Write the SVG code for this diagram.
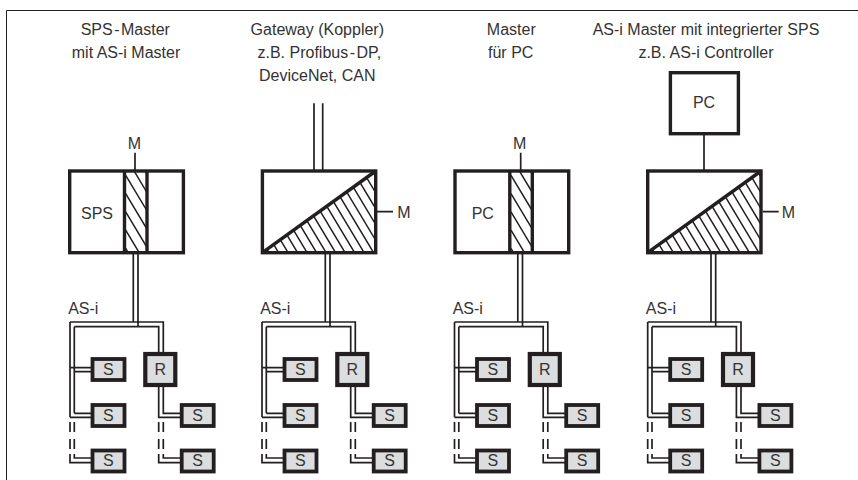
<svg xmlns="http://www.w3.org/2000/svg" width="858" height="480" viewBox="0 0 858 480">
<defs>
<style>
text{font-family:"Liberation Sans",Arial,sans-serif;font-size:16px;fill:#333;text-anchor:middle}
.b{fill:#fff;stroke:#231f20;stroke-width:3.4}
.g{fill:#dcddde;stroke:#231f20;stroke-width:3.8}
.r{fill:#dcddde;stroke:#231f20;stroke-width:4.2}
.l{fill:none;stroke:#231f20;stroke-width:1.7}
.d{fill:none;stroke:#231f20;stroke-width:3.4}
.h{stroke:#231f20;stroke-width:1.5}
</style>
<clipPath id="cb"><rect x="125" y="172" width="21" height="80"/></clipPath>
<clipPath id="cd"><path d="M263 252L375 172V252Z"/></clipPath>
<g id="bus">
<path class="l" d="M133.300 254V322M138 254V326.700M70 322H163.300V354M74.300 326.700H158.700V354M70 322V417.300M74.300 326.700V413.300"/>
<path class="l" d="M70 367.700H92M74.300 371.700H92M74.300 413.300H92M70 417.300H92"/>
<path class="l" d="M70 422V432M74.300 422V432M70 439V449M74.300 439V449"/>
<path class="l" d="M70 454V462.700H92M74.300 454V458H92"/>
<path class="l" d="M158.700 386V417.300H181M163.300 386V413.300H181"/>
<path class="l" d="M158.700 422V432M163.300 422V432M158.700 439V449M163.300 439V449"/>
<path class="l" d="M158.700 454V462.700H181M163.300 454V458H181"/>
</g>
<g id="slaves">
<rect class="g" x="92.500" y="359" width="32" height="21"/>
<rect class="g" x="92.500" y="405" width="32" height="21"/>
<rect class="g" x="92.500" y="450.500" width="32" height="21"/>
<rect class="g" x="181.700" y="405" width="32" height="21"/>
<rect class="g" x="181.700" y="450.500" width="32" height="21"/>
<rect class="r" x="145.300" y="354" width="30" height="31"/>
<text x="108.300" y="375">S</text><text x="108.300" y="420.700">S</text><text x="108.300" y="465.700">S</text>
<text x="197.700" y="420.700">S</text><text x="197.700" y="465.700">S</text><text x="160.300" y="375">R</text>
<text x="83.300" y="314.300">AS-i</text>
</g>
<g id="hb" clip-path="url(#cb)"><path class="h" d="M125.700 157l60 100M125.700 175.300l60 100M125.700 193.600l60 100M125.700 211.900l60 100M125.700 230.200l60 100M125.700 248.500l60 100M125.700 138.700l60 100"/></g>
<g id="hd" clip-path="url(#cd)"><path class="h" d="M209.300 153l60 100M218.800 153l60 100M228.300 153l60 100M237.800 153l60 100M247.300 153l60 100M256.800 153l60 100M266.300 153l60 100M275.800 153l60 100M285.300 153l60 100M294.800 153l60 100M304.300 153l60 100M313.800 153l60 100M323.300 153l60 100M332.800 153l60 100M342.300 153l60 100M351.800 153l60 100M361.300 153l60 100M370.800 153l60 100"/></g>
</defs>
<path fill="none" stroke="#231f20" stroke-width="1" d="M6.500 480V10.500H858"/>
<g id="connectors">
<use href="#bus"/>
<use href="#bus" transform="translate(192 0)"/>
<use href="#bus" transform="translate(384.500 0)"/>
<use href="#bus" transform="translate(577.700 0)"/>
<path class="l" d="M135 152.700V170M314 103.300V170M322.700 103.300V170M377 211.700H393M520.700 152.700V170M704 135V170M762.700 211.700H778.700"/>
</g>
<g id="col1"><use href="#slaves"/></g>
<g id="col2"><use href="#slaves" transform="translate(192 0)"/></g>
<g id="col3"><use href="#slaves" transform="translate(384.500 0)"/></g>
<g id="col4"><use href="#slaves" transform="translate(577.700 0)"/></g>
<g id="master1">
<rect class="b" x="69.700" y="171" width="113.700" height="81.700"/><use href="#hb"/>
<path class="d" d="M124.500 171V252.700M147 171V252.700"/>
<text x="134.300" y="149">M</text><text x="97" y="218.500">SPS</text>
</g>
<g id="gateway">
<rect class="b" x="262.400" y="171" width="113.300" height="81.700"/><use href="#hd"/>
<path class="d" d="M262.400 252.700L375.700 171"/>
<text x="404" y="217.700">M</text>
</g>
<g id="master3" transform="translate(385.300 0)">
<rect class="b" x="69.700" y="171" width="113.700" height="81.700"/><use href="#hb"/>
<path class="d" d="M124.500 171V252.700M147 171V252.700"/>
<text x="134.300" y="149">M</text><text x="97.500" y="218.500">PC</text>
</g>
<g id="controller" transform="translate(385.300 0)">
<rect class="b" x="262.400" y="171" width="113.300" height="81.700"/><use href="#hd"/>
<path class="d" d="M262.400 252.700L375.700 171"/>
<text x="403" y="218">M</text>
</g>
<g id="pc"><rect class="b" x="670.400" y="72.700" width="68" height="61"/><text x="704" y="107.700">PC</text></g>
<g id="labels">
<text x="125.300" y="35">SPS<tspan dx="1.500">-</tspan><tspan dx="1.500">Master</tspan></text><text x="126" y="58">mit AS-i Master</text>
<text x="317.300" y="35">Gateway (Koppler)</text><text x="319.300" y="58">z.B. Profibus<tspan dx="1.500">-</tspan><tspan dx="1.500">DP,</tspan></text><text x="317.300" y="81">DeviceNet, CAN</text>
<text x="511.300" y="35">Master</text><text x="510.700" y="58">für PC</text>
<text x="706" y="35">AS-i Master mit integrierter SPS</text><text x="706" y="58">z.B. AS-i Controller</text>
</g>
</svg>
